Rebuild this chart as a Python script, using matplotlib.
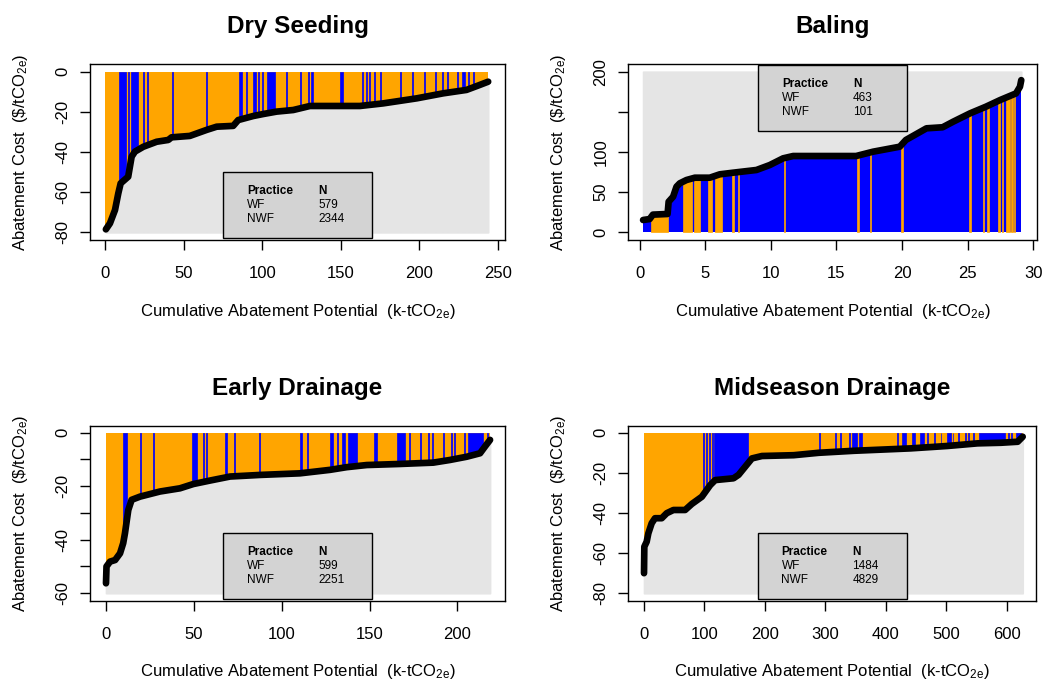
import numpy as np
import matplotlib
matplotlib.use('Agg')
import matplotlib.pyplot as plt
from matplotlib.patches import Rectangle

plt.rcParams['font.family'] = ['Liberation Sans', 'DejaVu Sans']
plt.rcParams['mathtext.fontset'] = 'custom'
plt.rcParams['mathtext.rm'] = 'Liberation Sans'
plt.rcParams['mathtext.it'] = 'Liberation Sans:italic'
plt.rcParams['mathtext.bf'] = 'Liberation Sans:bold'

# ---------------- data ----------------
titles = ['Dry Seeding', 'Baling', 'Early Drainage', 'Midseason Drainage']
legend_rows = ['WF', 'NWF']

# Dry Seeding: cumulative abatement potential (k-tCO2e) and cost ($/tCO2e)
ds_x = [0.6, 3.2, 6.4, 8.5, 10.0, 14.8, 17.0, 19.1, 24.4, 32.9, 40.3, 42.4, 54.0, 64.7,
        71.1, 81.6, 84.8, 94.3, 100.7, 109.2, 119.8, 130.4, 162.2, 177.0, 198.3, 215.2,
        230.0, 238.5, 243.8]
ds_y = [-78.5, -75.5, -68.9, -60.6, -55.6, -52.3, -42.3, -39.8, -37.4, -34.9, -34.0, -32.7,
        -32.0, -29.0, -27.4, -27.0, -24.1, -22.1, -21.1, -19.9, -19.1, -17.1, -17.1, -15.8,
        -13.3, -10.8, -9.1, -6.6, -5.0]
ds_band_start = [9.1, 14.6, 16.5, 23.9, 26.9, 42.4, 64.0, 85.4, 89.7, 94.3, 97.5, 99.7, 103.0,
                 115.1, 124.0, 129.3, 131.4, 149.5, 163.3, 165.8, 168.1, 171.1, 174.9, 187.7,
                 195.1, 203.0, 210.0, 214.2, 217.3, 223.7, 227.3, 231.1, 234.3]
ds_band_end = [13.4, 15.3, 21.2, 24.6, 27.6, 43.1, 64.7, 86.9, 90.4, 96.1, 98.2, 100.4, 108.1,
               115.8, 124.7, 130.0, 132.1, 151.2, 164.0, 166.5, 168.8, 171.8, 175.6, 188.4,
               195.8, 203.7, 210.7, 214.9, 218.0, 224.4, 229.0, 231.8, 235.0]
ds_n = [579, 2344]

# Baling
bl_x = [0.25, 0.75, 1.0, 2.12, 2.2, 2.54, 2.8, 3.05, 3.56, 4.2, 5.34, 6.1, 7.1, 8.9, 9.92,
        10.93, 11.7, 16.5, 17.8, 19.83, 20.3, 21.87, 23.1, 23.9, 25.2, 26.4, 27.5, 28.7,
        29.0, 29.1]
bl_y = [15.3, 16.5, 22.0, 22.8, 38.1, 44.3, 56.8, 61.0, 65.1, 68.0, 68.0, 72.2, 74.2, 77.6,
        83.8, 92.1, 95.0, 95.0, 100.4, 106.6, 115.0, 129.5, 130.8, 137.7, 148.2, 156.4,
        164.8, 173.0, 181.3, 189.5]
bl_band_start = [0.89, 3.26, 4.12, 5.21, 5.72, 7.05, 7.5, 11.0, 16.6, 17.55, 19.95, 25.15,
                 26.15, 26.52, 27.35, 27.6, 27.97, 28.35, 28.55]
bl_band_end = [2.16, 4.02, 4.58, 5.54, 6.28, 7.15, 7.6, 11.1, 16.7, 17.65, 20.05, 25.25,
               26.25, 26.62, 27.45, 27.7, 28.27, 28.45, 28.65]
bl_n = [463, 101]

# Early Drainage
ed_x = [0.0, 0.3, 2.3, 5.2, 8.0, 9.8, 10.8, 12.7, 14.6, 19.4, 30.7, 42.1, 49.7, 59.2, 70.6,
        87.6, 110.4, 127.5, 137.0, 148.4, 167.3, 186.3, 195.8, 205.3, 212.9, 215.7, 218.6]
ed_y = [-56.3, -50.0, -48.2, -47.6, -45.1, -41.3, -37.6, -28.9, -25.1, -23.9, -22.0, -20.8,
        -19.2, -17.9, -16.4, -15.8, -15.2, -13.9, -12.9, -12.1, -11.7, -11.2, -10.2, -9.0,
        -7.7, -5.2, -2.7]
ed_band_start = [9.5, 19.4, 27.0, 48.8, 55.1, 57.0, 68.0, 72.7, 87.3, 110.4, 114.6, 127.5,
                 131.6, 134.1, 137.9, 152.5, 165.5, 172.7, 178.8, 183.1, 185.6, 191.7, 196.4,
                 197.8, 203.6, 206.2, 216.7]
ed_band_end = [11.8, 20.0, 27.6, 51.6, 55.7, 57.6, 68.6, 73.3, 87.9, 111.4, 115.2, 129.4,
               132.2, 136.0, 142.7, 154.4, 170.2, 173.3, 179.4, 183.7, 186.2, 192.3, 197.0,
               198.4, 204.2, 214.4, 217.3]
ed_n = [599, 2251]

# Midseason Drainage
ms_x = [0.0, 0.5, 4.4, 7.2, 12.7, 18.2, 29.3, 37.6, 48.7, 68.0, 79.1, 95.7, 109.5, 117.8,
        148.1, 156.4, 178.6, 195.2, 247.7, 289.0, 347.3, 441.3, 502.2, 551.9, 590.6, 618.3,
        626.6]
ms_y = [-70.0, -56.8, -54.3, -50.1, -45.1, -42.6, -42.6, -40.1, -38.5, -38.5, -35.5, -31.9,
        -26.1, -23.6, -22.7, -21.0, -12.8, -11.6, -11.2, -10.0, -9.0, -7.8, -6.6, -5.3,
        -5.0, -4.5, -2.0]
ms_band_start = [97.5, 102.5, 107.5, 112.0, 116.5, 289.0, 315.5, 325.0, 339.0, 344.5, 355.0,
                 418.0, 427.5, 443.4, 457.3, 468.6, 479.6, 490.7, 501.8, 510.5, 520.0, 531.0,
                 536.5, 544.8, 555.0, 601.9, 607.3, 615.6]
ms_band_end = [99.0, 104.0, 109.0, 113.5, 172.5, 290.5, 317.0, 326.5, 340.5, 352.8, 361.0,
               419.5, 433.0, 449.0, 463.0, 470.0, 481.0, 492.0, 507.3, 512.0, 521.5, 532.5,
               538.0, 546.3, 598.0, 603.4, 608.8, 623.9]
ms_n = [1484, 4829]

ORANGE = '#FFA500'
BLUE = '#0000FF'
GREY = '#E5E5E5'
LEGFILL = '#D3D3D3'

W, H = 1051, 684
fig = plt.figure(figsize=(W / 100, H / 100), dpi=100)

def px_axes(l, t, r, b):
    return fig.add_axes([l / W, 1 - b / H, (r - l) / W, (b - t) / H])

panels = [
    dict(ax=px_axes(90, 64, 505, 240), x=ds_x, y=ds_y, bs=ds_band_start, be=ds_band_end,
         n=ds_n, neg=True, x0=0.0, ylo=-80, yhi=0, xlim=(-9.5, 254.5), ylim=(-83.8, 3.8),
         xt=[0, 50, 100, 150, 200, 250], yt=[0, -20, -40, -60, -80], ylab=[0, -20, -40, -60, -80],
         legtop=False),
    dict(ax=px_axes(628, 64, 1037, 240), x=bl_x, y=bl_y, bs=bl_band_start, be=bl_band_end,
         n=bl_n, neg=False, x0=bl_x[0], ylo=0, yhi=200, xlim=(-0.9, 30.3), ylim=(-9.6, 209.6),
         xt=[0, 5, 10, 15, 20, 25, 30], yt=[0, 50, 100, 150, 200], ylab=[0, 50, 100, 200],
         legtop=True),
    dict(ax=px_axes(90, 425.7, 505, 600.7), x=ed_x, y=ed_y, bs=ed_band_start, be=ed_band_end,
         n=ed_n, neg=True, x0=0.0, ylo=-60, yhi=0, xlim=(-9.1, 227.1), ylim=(-62.8, 2.6),
         xt=[0, 50, 100, 150, 200], yt=[0, -10, -20, -30, -40, -50, -60],
         ylab=[0, -20, -40, -60], legtop=False),
    dict(ax=px_axes(628, 425.7, 1036, 600.7), x=ms_x, y=ms_y, bs=ms_band_start, be=ms_band_end,
         n=ms_n, neg=True, x0=0.0, ylo=-80, yhi=0, xlim=(-26.5, 648.6), ylim=(-83.7, 3.5),
         xt=[0, 100, 200, 300, 400, 500, 600], yt=[0, -20, -40, -60, -80],
         ylab=[0, -20, -40, -60, -80], legtop=False),
]

xlabel = r'Cumulative Abatement Potential  (k-tCO$_{\mathrm{2e}}$)'
ylabel = r'Abatement Cost  (\$/tCO$_{\mathrm{2e}}$)'

for title, p in zip(titles, panels):
    ax = p['ax']
    x = np.array(p['x']); y = np.array(p['y'])
    x0, x1 = p['x0'], x[-1]
    base, band = (ORANGE, BLUE) if p['neg'] else (BLUE, ORANGE)
    ax.fill_between([x0, x1], p['ylo'], p['yhi'], color=base, lw=0, zorder=1)
    for s, e in zip(p['bs'], p['be']):
        ax.fill_between([s, e], p['ylo'], p['yhi'], facecolor=band, edgecolor=band,
                        lw=0.5, zorder=2)
    if p['neg']:
        ax.fill_between(x, p['ylo'], y, facecolor=GREY, edgecolor=GREY, lw=1.2, zorder=3)
    else:
        ax.fill_between(x, y, p['yhi'], facecolor=GREY, edgecolor=GREY, lw=1.2, zorder=3)
    ax.plot(x, y, color='black', lw=4.8, solid_capstyle='round', solid_joinstyle='round',
            zorder=4)
    ax.set_xlim(*p['xlim']); ax.set_ylim(*p['ylim'])
    ax.set_xticks(p['xt'])
    ax.set_xticklabels([str(v) for v in p['xt']])
    ax.set_yticks(p['yt'])
    ax.set_yticklabels([str(v) if v in p['ylab'] else '' for v in p['yt']])
    ax.tick_params(axis='both', direction='out', length=7, width=1, labelsize=12, colors='black')
    ax.tick_params(axis='x', pad=12)
    ax.tick_params(axis='y', pad=7, labelrotation=90)
    for lab in ax.get_yticklabels():
        lab.set_verticalalignment('center')
    for sp in ax.spines.values():
        sp.set_linewidth(1.0); sp.set_color('black')
    ax.set_facecolor('white')

    bb = ax.get_position()
    cx = (bb.x0 + bb.x1) / 2
    cy = (bb.y0 + bb.y1) / 2
    top_px = (1 - bb.y1) * H
    bot_px = (1 - bb.y0) * H
    fig.text(cx, 1 - (top_px - 37) / H, title, ha='center', va='center', fontsize=17.5,
             fontweight='bold')
    fig.text(cx, 1 - (bot_px + 71) / H, xlabel, ha='center', va='center', fontsize=12)
    fig.text(bb.x0 - 69 / W, cy, ylabel, ha='center', va='center', rotation=90, fontsize=12)

    # legend box
    lw_px, lh_px = 149, 66
    lx0 = cx - lw_px / 2 / W
    if p['legtop']:
        ltop_px = top_px + 1
    else:
        ltop_px = bot_px - 2 - lh_px
    fig.patches.append(Rectangle((lx0, 1 - (ltop_px + lh_px) / H), lw_px / W, lh_px / H,
                                 transform=fig.transFigure, facecolor=LEGFILL,
                                 edgecolor='black', lw=1.0, zorder=5))
    rows = [('Practice', 'N', 'bold')] + [(r, str(n), 'normal') for r, n in zip(legend_rows, p['n'])]
    for i, (a, b, wgt) in enumerate(rows):
        yy = 1 - (ltop_px + 19 + 14 * i) / H
        fig.text(lx0 + 24 / W, yy, a, ha='left', va='center', fontsize=8.5, fontweight=wgt,
                 zorder=6)
        fig.text(lx0 + 95 / W, yy, b, ha='left', va='center', fontsize=8.5, fontweight=wgt,
                 zorder=6)

fig.savefig('out.png', dpi=100)
